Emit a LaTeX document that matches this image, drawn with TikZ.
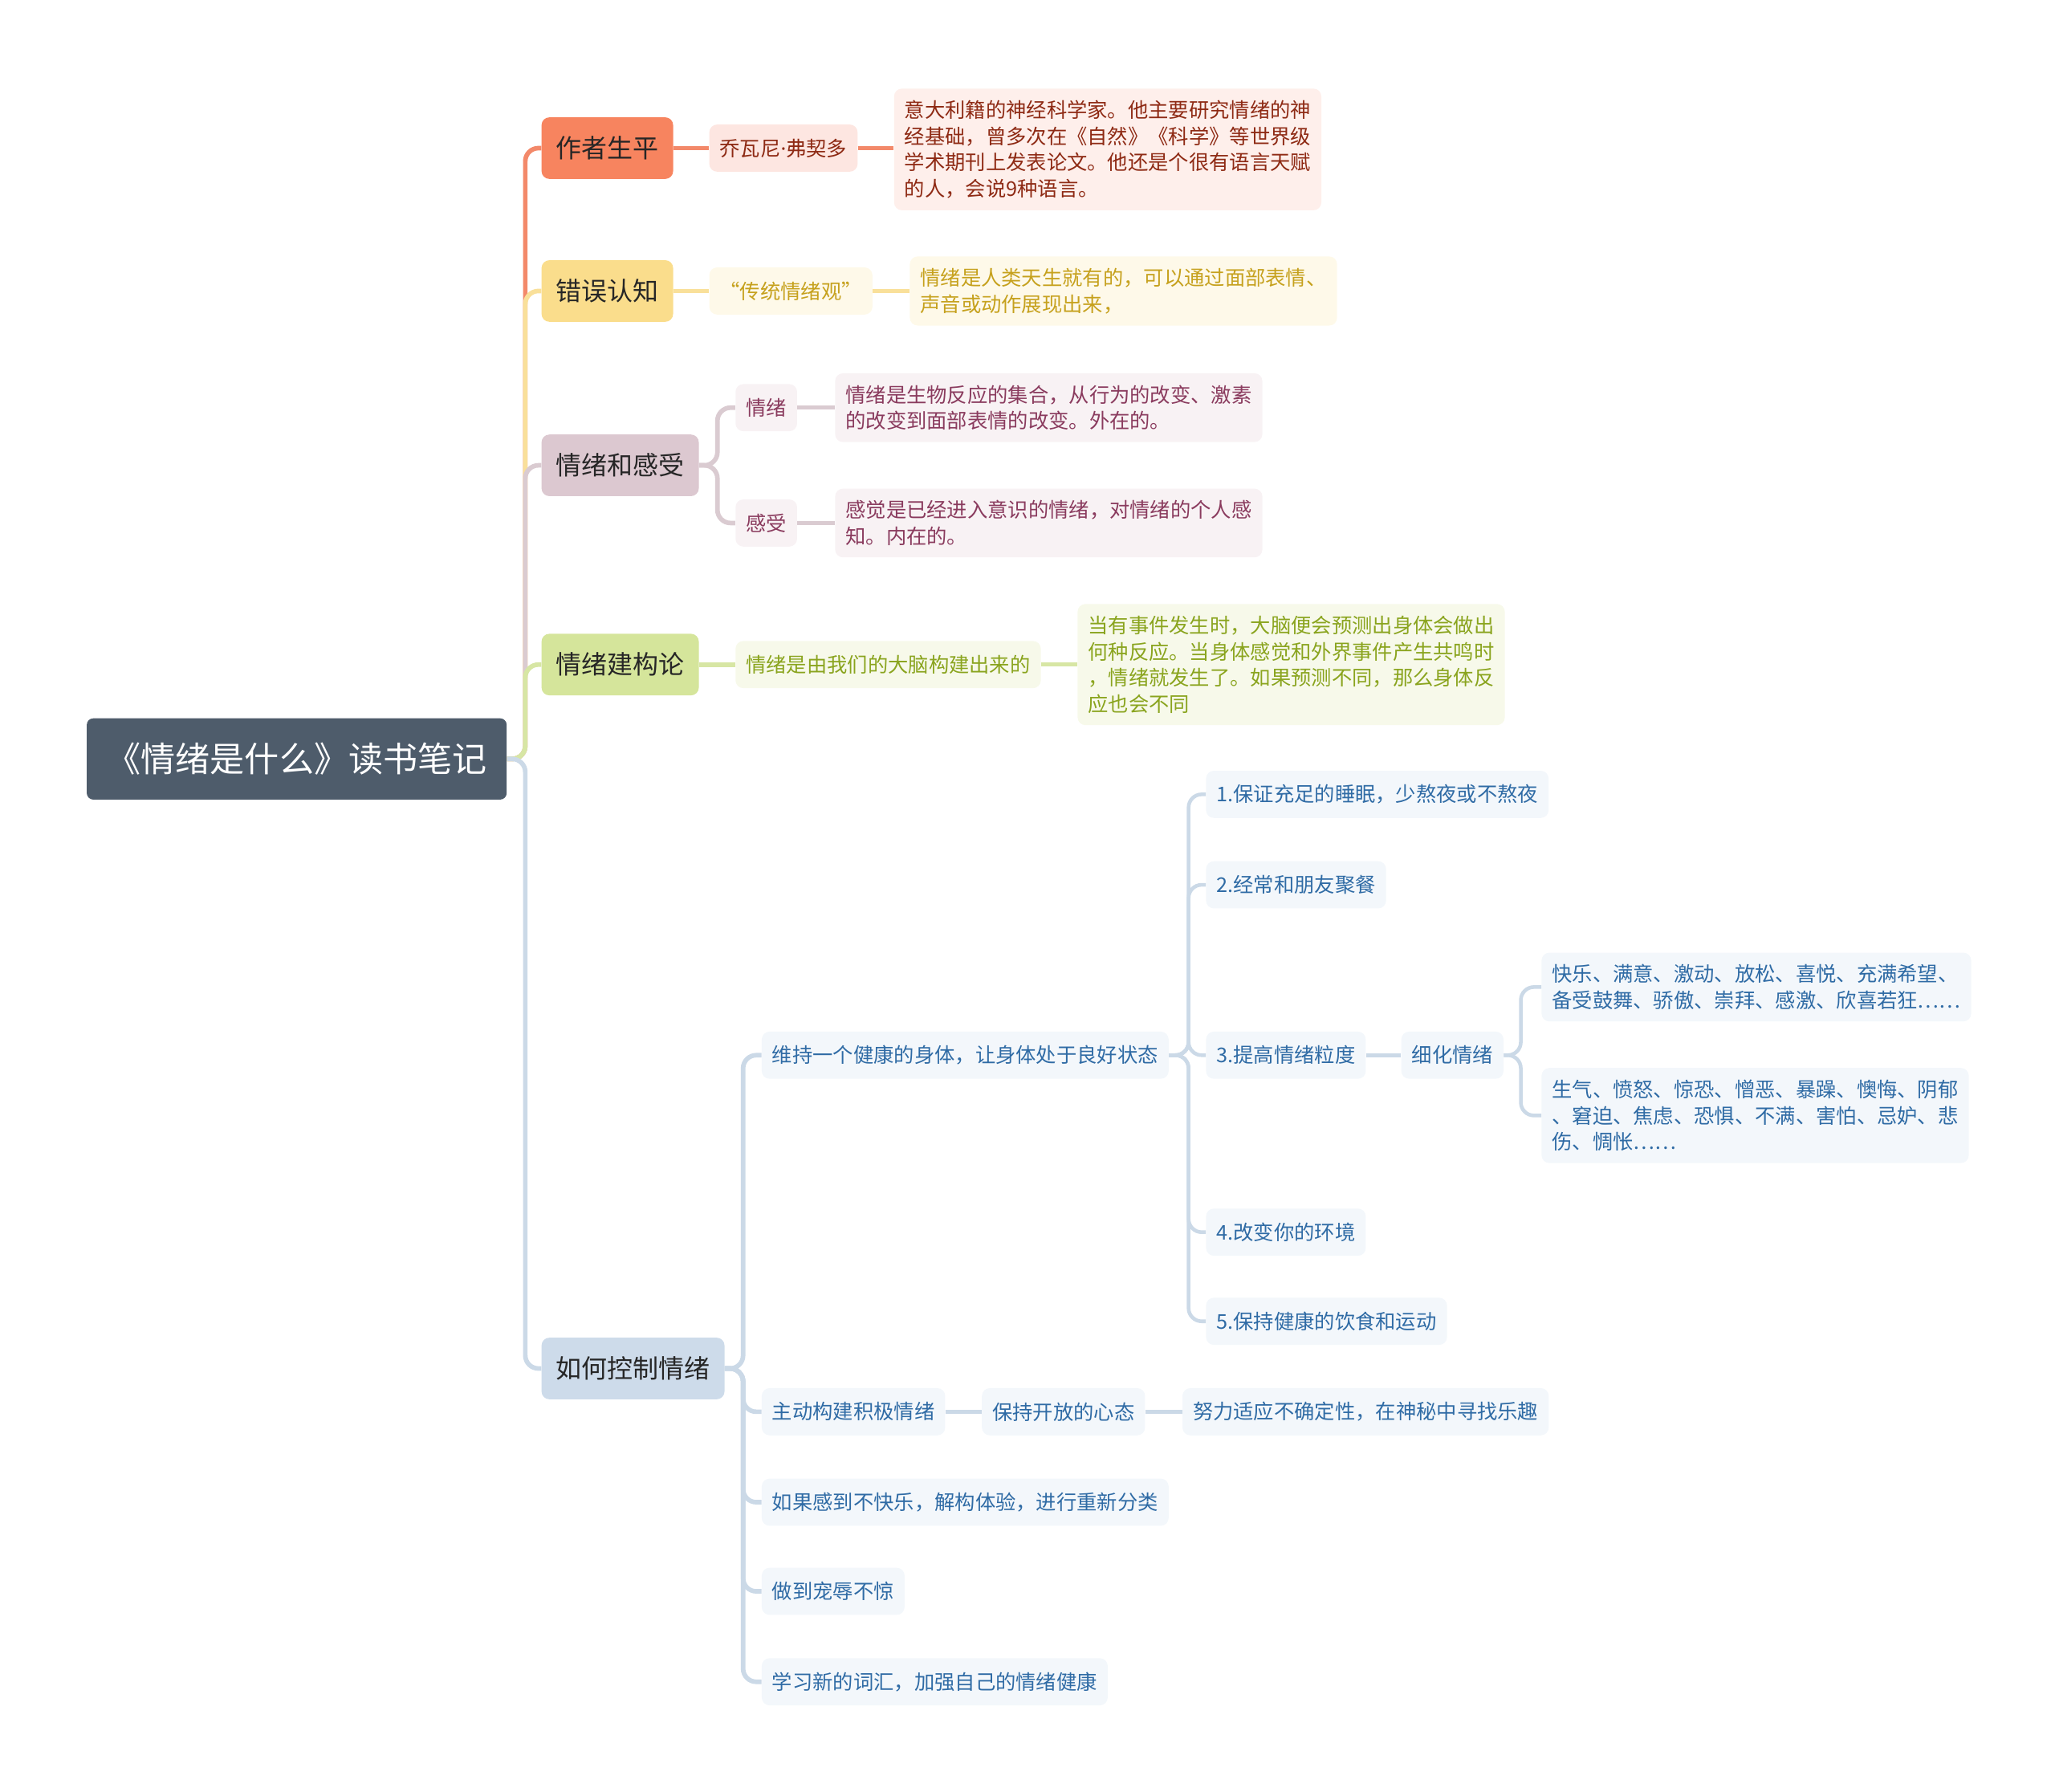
\documentclass[tikz,border=0pt]{standalone}
\usepackage{fontspec}
\setmainfont{Noto Sans CJK SC}
\newfontfamily\dotfont{Noto Sans}
\usepackage{xcolor}
\usepackage{tikz}
\usetikzlibrary{positioning}

\definecolor{rootFill}{HTML}{4E5C6B}
\definecolor{topicText}{HTML}{262626}
\definecolor{orgLine}{HTML}{F3896A}
\definecolor{orgTop}{HTML}{F7845F}
\definecolor{orgSub}{HTML}{FDE6E1}
\definecolor{orgText}{HTML}{8E2A14}
\definecolor{ylwLine}{HTML}{F9E09A}
\definecolor{ylwTop}{HTML}{FADD8C}
\definecolor{ylwSub}{HTML}{FEF9E9}
\definecolor{ylwText}{HTML}{C6A11D}
\definecolor{pnkLine}{HTML}{DACBD1}
\definecolor{pnkTop}{HTML}{DCC8D0}
\definecolor{pnkSub}{HTML}{F8F2F4}
\definecolor{pnkText}{HTML}{8A3B5E}
\definecolor{grnLine}{HTML}{D7E6A4}
\definecolor{grnTop}{HTML}{D5E59B}
\definecolor{grnSub}{HTML}{F7F9EA}
\definecolor{grnText}{HTML}{8AA41E}
\definecolor{bluLine}{HTML}{CBD9E7}
\definecolor{bluTop}{HTML}{CDDBEA}
\definecolor{bluSub}{HTML}{F3F7FB}
\definecolor{bluText}{HTML}{2F6BA5}

\begin{document}
\begin{tikzpicture}[x=1pt, y=-1pt,
  rootbox/.style={fill=rootFill, text=white, rounded corners=5pt, anchor=west,
    minimum height=62pt, inner xsep=15pt, font=\fontsize{26.4}{30}\selectfont},
  topic/.style={rounded corners=6pt, anchor=west, minimum height=47pt, inner xsep=11pt,
    text=topicText, font=\fontsize{19.6}{24}\selectfont},
  leaf/.style={rounded corners=6pt, anchor=west, minimum height=36pt, inner xsep=8pt,
    font=\fontsize{15.5}{20}\selectfont},
  note/.style={leaf, align=left, inner ysep=9pt},
  trunk/.style={line width=3.5pt, rounded corners=10pt},
  twig/.style={line width=2.8pt, rounded corners=10pt},
  org/.style={leaf, fill=orgSub, text=orgText},
  ylw/.style={leaf, fill=ylwSub, text=ylwText},
  pnk/.style={leaf, fill=pnkSub, text=pnkText},
  grn/.style={leaf, fill=grnSub, text=grnText},
  blu/.style={leaf, fill=bluSub, text=bluText}
]
\useasboundingbox (0,0) rectangle (1568,1367);

% Column positions
\def\xr{66} \def\xt{413} \def\xs{541} \def\xf{561} \def\xk{581}

% Root and topics
\node[rootbox] (root) at (\xr,579) {《情绪是什么》读书笔记};
\node[topic, fill=orgTop] (t1) at (\xt,113) {作者生平};
\node[topic, fill=ylwTop] (t2) at (\xt,222) {错误认知};
\node[topic, fill=pnkTop] (t3) at (\xt,355) {情绪和感受};
\node[topic, fill=grnTop] (t4) at (\xt,507) {情绪建构论};
\node[topic, fill=bluTop] (t5) at (\xt,1044) {如何控制情绪};

% Author
\node[org] (a1) at (\xs,113) {乔瓦尼{\dotfont ·}弗契多};
\node[org, note, fill=orgSub!85!orgTop!40] (a2) at (682,114) {意大利籍的神经科学家。他主要研究情绪的神\\经基础，曾多次在《自然》《科学》等世界级\\学术期刊上发表论文。他还是个很有语言天赋\\的人，会说9种语言。};

% Wrong belief
\node[ylw] (w1) at (\xs,222) {“传统情绪观”};
\node[ylw, note] (w2) at (694,222) {情绪是人类天生就有的，可以通过面部表情、\\声音或动作展现出来，};

% Emotion and feeling
\node[pnk] (f1) at (\xf,311) {情绪};
\node[pnk, note] (f2) at (637,311) {情绪是生物反应的集合，从行为的改变、激素\\的改变到面部表情的改变。外在的。};
\node[pnk] (f3) at (\xf,399) {感受};
\node[pnk, note] (f4) at (637,399) {感觉是已经进入意识的情绪，对情绪的个人感\\知。内在的。};

% Construction
\node[grn] (c1) at (\xf,507) {情绪是由我们的大脑构建出来的};
\node[grn, note] (c2) at (822,507) {当有事件发生时，大脑便会预测出身体会做出\\何种反应。当身体感觉和外界事件产生共鸣时\\，情绪就发生了。如果预测不同，那么身体反\\应也会不同};

% Control
\node[blu] (k1) at (\xk,805) {维持一个健康的身体，让身体处于良好状态};
\node[blu] (k1a) at (920,606) {1.保证充足的睡眠，少熬夜或不熬夜};
\node[blu] (k1b) at (920,675) {2.经常和朋友聚餐};
\node[blu] (k1c) at (920,805) {3.提高情绪粒度};
\node[blu] (k1d) at (920,940) {4.改变你的环境};
\node[blu] (k1e) at (920,1008) {5.保持健康的饮食和运动};
\node[blu] (kx) at (1069,805) {细化情绪};
\node[blu, note] (p1) at (1176,753) {快乐、满意、激动、放松、喜悦、充满希望、\\备受鼓舞、骄傲、崇拜、感激、欣喜若狂……};
\node[blu, note] (p2) at (1176,851) {生气、愤怒、惊恐、憎恶、暴躁、懊悔、阴郁\\、窘迫、焦虑、恐惧、不满、害怕、忌妒、悲\\伤、惆怅……};
\node[blu] (k2) at (\xk,1077) {主动构建积极情绪};
\node[blu] (k2a) at (749,1077) {保持开放的心态};
\node[blu] (k2b) at (902,1077) {努力适应不确定性，在神秘中寻找乐趣};
\node[blu] (k3) at (\xk,1146) {如果感到不快乐，解构体验，进行重新分类};
\node[blu] (k4) at (\xk,1214) {做到宠辱不惊};
\node[blu] (k5) at (\xk,1283) {学习新的词汇，加强自己的情绪健康};

% Trunk lines
\foreach \t/\c in {t1/orgLine, t2/ylwLine, t3/pnkLine, t4/grnLine, t5/bluLine}
  \draw[trunk, \c] (root.east) -- ++(14,0) |- (\t.west);

% Branch lines
\draw[trunk, orgLine] (t1.east) -- (a1.west);
\draw[twig, orgLine] (a1.east) -- (a2.west |- a1.east);
\draw[trunk, ylwLine] (t2.east) -- (w1.west);
\draw[twig, ylwLine] (w1.east) -- (w2.west);
\foreach \s in {f1,f3}
  \draw[trunk, pnkLine] (t3.east) -- ++(14,0) |- (\s.west);
\draw[twig, pnkLine] (f1.east) -- (f2.west);
\draw[twig, pnkLine] (f3.east) -- (f4.west);
\draw[trunk, grnLine] (t4.east) -- (c1.west);
\draw[twig, grnLine] (c1.east) -- (c2.west);
\foreach \s in {k1,k2,k3,k4,k5}
  \draw[trunk, bluLine] (t5.east) -- ++(14,0) |- (\s.west);
\foreach \s in {k1a,k1b,k1c,k1d,k1e}
  \draw[twig, bluLine] (k1.east) -- ++(15,0) |- (\s.west);
\draw[twig, bluLine] (k1c.east) -- (kx.west);
\foreach \s in {p1,p2}
  \draw[twig, bluLine] (kx.east) -- ++(13,0) |- (\s.west);
\draw[twig, bluLine] (k2.east) -- (k2a.west);
\draw[twig, bluLine] (k2a.east) -- (k2b.west);
\end{tikzpicture}
\end{document}
